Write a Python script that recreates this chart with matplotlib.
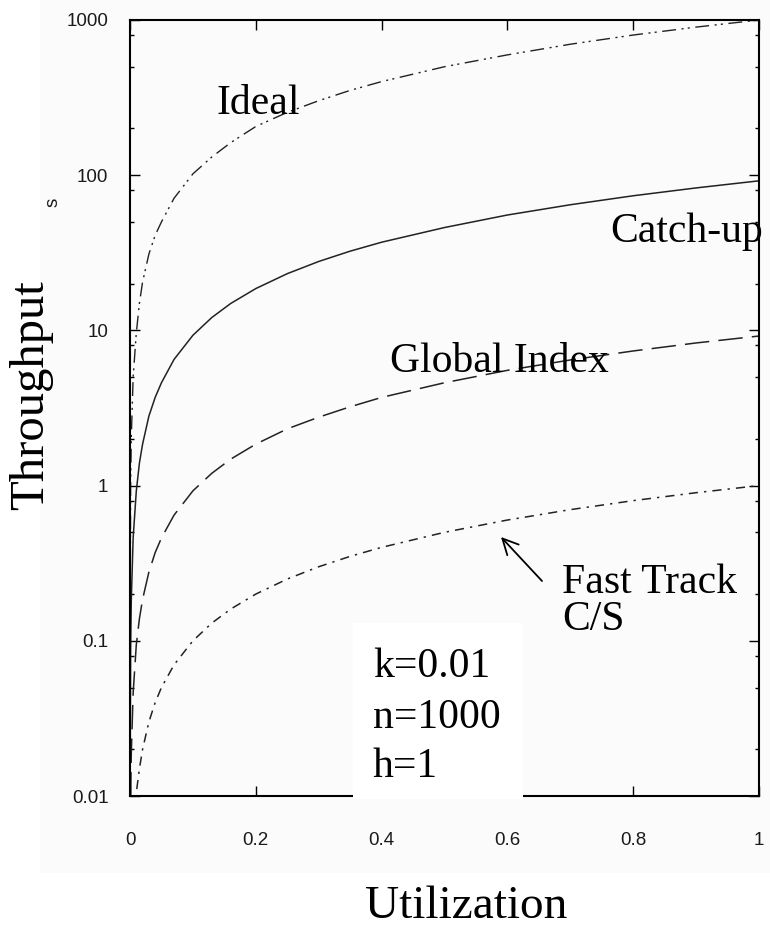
import matplotlib
matplotlib.use('Agg')
import matplotlib.pyplot as plt
from matplotlib.patches import Rectangle
from matplotlib.ticker import LogLocator, NullFormatter, FixedLocator, FixedFormatter

# values
u = [0.00001, 0.0001, 0.001, 0.002, 0.005, 0.01, 0.015, 0.02, 0.03, 0.04, 0.05,
     0.07, 0.1, 0.13, 0.16, 0.2, 0.25, 0.3, 0.35, 0.4, 0.5, 0.6, 0.7, 0.8, 0.9, 1.0]
ideal = [0.01, 0.1, 1.0, 2.0, 5.0, 9.6, 15, 20.5, 31, 41, 50, 71, 102, 131, 162,
         206, 254, 302, 352, 401, 500, 596, 698, 800, 900, 1000]
catch_up = [0.0009, 0.009, 0.09, 0.18, 0.46, 0.92, 1.4, 1.85, 2.8, 3.7, 4.6, 6.5,
            9.3, 12.1, 14.9, 18.6, 23.2, 27.8, 32.4, 37, 46, 55.4, 64.5, 73.7, 82.8, 92]
global_index = [0.00009, 0.0009, 0.0092, 0.0185, 0.046, 0.094, 0.139, 0.185, 0.277,
                0.37, 0.46, 0.645, 0.925, 1.2, 1.48, 1.85, 2.32, 2.76, 3.22, 3.7,
                4.6, 5.53, 6.45, 7.37, 8.3, 9.2]
fast_track = [0.00001, 0.0001, 0.001, 0.002, 0.005, 0.0105, 0.015, 0.02, 0.03, 0.04,
              0.05, 0.07, 0.1, 0.13, 0.16, 0.2, 0.25, 0.3, 0.35, 0.4, 0.5, 0.6, 0.7,
              0.8, 0.9, 1.0]

x_ticks = [0, 0.2, 0.4, 0.6, 0.8, 1]
x_labels = ['0', '0.2', '0.4', '0.6', '0.8', '1']
y_ticks = [0.01, 0.1, 1, 10, 100, 1000]
y_labels = ['0.01', '0.1', '1', '10', '100', '1000']
params = ['k=0.01', 'n=1000', 'h=1']

W, H = 770, 930
SERIF = 'Liberation Serif'
SANS = 'Liberation Sans'


def fx(px):
    return px / W


def fy(py):
    return 1 - py / H


fig = plt.figure(figsize=(W / 100, H / 100), dpi=100)
fig.patch.set_facecolor('white')

# very light grey panel behind the plot
fig.add_artist(Rectangle((fx(40), fy(873)), fx(770) - fx(40), fy(0) - fy(873),
                         transform=fig.transFigure, facecolor='#fbfbfb',
                         edgecolor='none', zorder=-1))

ax = fig.add_axes([fx(130), fy(796), fx(759) - fx(130), fy(20) - fy(796)])
ax.set_facecolor('#fbfbfb')

ax.plot(u, ideal, color='#222222', lw=1.0, ls=(0, (10, 4, 1.5, 3, 1.5, 4)))
ax.plot(u, catch_up, color='#222222', lw=1.1, ls='-')
ax.plot(u, global_index, color='#222222', lw=1.1, ls=(0, (16, 6)))
ax.plot(u, fast_track, color='#222222', lw=1.1, ls=(0, (6, 4, 1.5, 4)))

ax.set_xlim(0, 1)
ax.set_yscale('log')
ax.set_ylim(0.01, 1000)

ax.xaxis.set_major_locator(FixedLocator(x_ticks))
ax.xaxis.set_major_formatter(FixedFormatter(x_labels))
ax.yaxis.set_major_locator(FixedLocator(y_ticks))
ax.yaxis.set_major_formatter(FixedFormatter(y_labels))
ax.yaxis.set_minor_locator(LogLocator(base=10, subs=[2, 5, 8]))
ax.yaxis.set_minor_formatter(NullFormatter())

for s in ax.spines.values():
    s.set_linewidth(1.5)
    s.set_color('black')

ax.tick_params(which='both', direction='in', top=True, right=True, width=1.0,
               color='black')
ax.tick_params(which='major', length=7)
ax.tick_params(which='minor', length=3)
ax.tick_params(axis='x', pad=26, labelsize=13.5, labelcolor='#1a1a1a')
ax.tick_params(axis='y', pad=15.5, labelsize=13.5, labelcolor='#1a1a1a')
for lab in ax.get_xticklabels() + ax.get_yticklabels():
    lab.set_fontfamily(SANS)

# curve labels
fig.text(fx(217), fy(114), 'Ideal', family=SERIF, fontsize=30, va='baseline')
fig.text(fx(610), fy(242), 'Catch-up', family=SERIF, fontsize=30, va='baseline')
fig.text(fx(390), fy(372), 'Global Index', family=SERIF, fontsize=30, va='baseline')
fig.text(fx(562), fy(593), 'Fast Track', family=SERIF, fontsize=30, va='baseline')
fig.text(fx(562), fy(630), 'C/S', family=SERIF, fontsize=30, va='baseline')
ax.annotate('', xy=(fx(501), fy(537)), xycoords='figure fraction',
            xytext=(fx(542), fy(581)), textcoords='figure fraction',
            arrowprops=dict(arrowstyle='->', lw=1.3, color='black',
                            mutation_scale=28, shrinkA=0, shrinkB=0))

# white box with parameters
fig.add_artist(Rectangle((fx(353), fy(799)), fx(523) - fx(353), fy(623) - fy(799),
                         transform=fig.transFigure, facecolor='white',
                         edgecolor='none', zorder=1))
for txt, base in zip(params, [677, 728, 777]):
    fig.text(fx(373), fy(base), txt, family=SERIF, fontsize=30, va='baseline',
             zorder=3)

# axis labels
fig.text(fx(31), fy(395), 'Throughput', family=SERIF, fontsize=35, rotation=90,
         ha='center', va='center')
fig.text(fx(53), fy(202), 's', family=SANS, fontsize=13.5, rotation=90,
         ha='center', va='center', color='#1a1a1a')
fig.text(fx(466), fy(918), 'Utilization', family=SERIF, fontsize=34,
         ha='center', va='baseline')

fig.savefig('out.png', dpi=100)
